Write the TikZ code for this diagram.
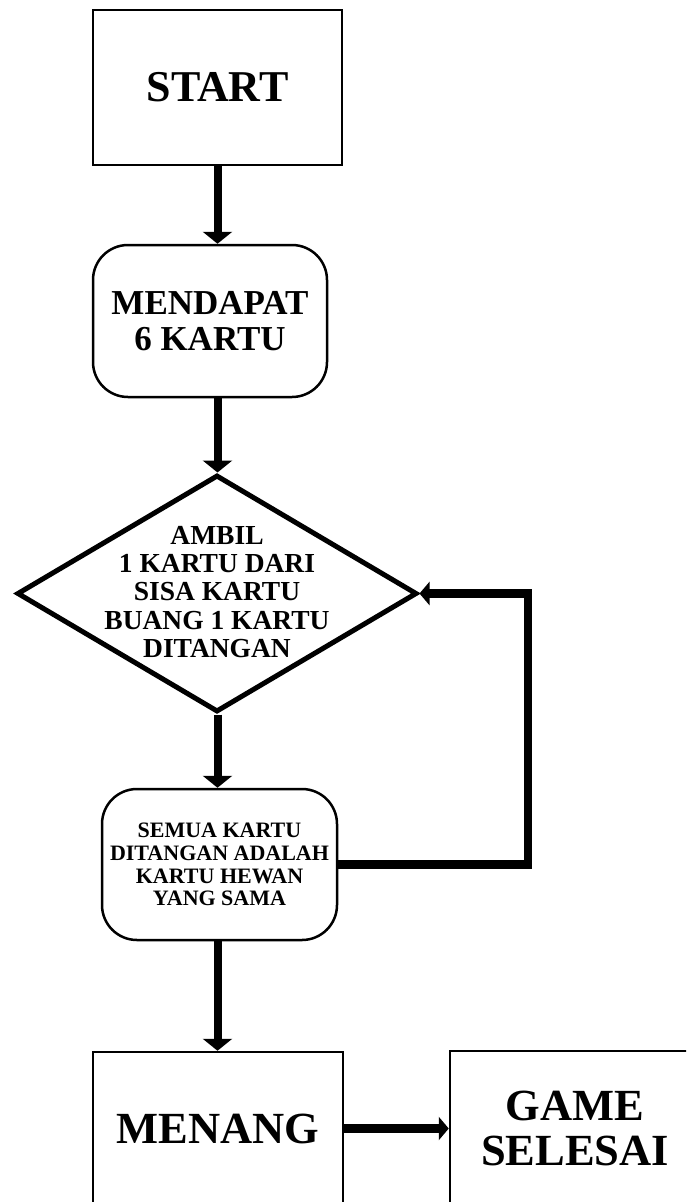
\documentclass[tikz,border=0pt]{standalone}
\usepackage{fontspec}
\setmainfont{Liberation Serif}
\usetikzlibrary{shapes.geometric,arrows.meta}
\tikzset{
  sqbox/.style={draw, line width=2.5pt, rectangle, inner sep=0pt, align=center},
  rndbox/.style={draw, line width=2.5pt, rectangle, rounded corners=35pt, inner sep=0pt, align=center},
  decide/.style={draw, line width=5pt, diamond, inner sep=0pt},
  plain/.style={inner sep=0pt, align=center},
  conn/.style={line width=8pt, -{Triangle[width=29pt,length=12pt]}},
  hconn/.style={line width=8.5pt, -{Triangle[width=23pt,length=10pt]}},
}
\begin{document}
\begin{tikzpicture}[x=1pt,y=-1pt]
\useasboundingbox (0,0) rectangle (686,1202);
\clip (0,0) rectangle (686,1202);

\node[sqbox, minimum width=249pt, minimum height=155pt,
  font=\fontsize{44}{46}\selectfont\bfseries] (start) at (217.5,87.5) {START};

\node[rndbox, minimum width=234pt, minimum height=152pt,
  font=\fontsize{35}{35.5}\selectfont\bfseries] (mendapat) at (210,321) {MENDAPAT\\6 KARTU};

\node[decide, minimum width=400pt, minimum height=237pt] (ambil) at (217,593.5) {};
\node[plain, font=\fontsize{27.5}{28.3}\selectfont\bfseries] (ambiltext) at (217,592)
  {AMBIL\\1 KARTU DARI\\SISA KARTU\\BUANG 1 KARTU\\DITANGAN};

\node[rndbox, minimum width=235pt, minimum height=151pt,
  font=\fontsize{22}{22.7}\selectfont\bfseries] (semua) at (219.5,864.5)
  {SEMUA KARTU\\DITANGAN ADALAH\\KARTU HEWAN\\YANG SAMA};

\node[sqbox, minimum width=250pt, minimum height=153pt,
  font=\fontsize{44.5}{46}\selectfont\bfseries] (menang) at (218,1128.5) {MENANG};

\node[sqbox, minimum width=250pt, minimum height=154pt,
  font=\fontsize{44.5}{45}\selectfont\bfseries] (game) at (575,1128) {GAME\\SELESAI};

\coordinate (loopc) at (528,700);

\draw[conn] (start.south) -- (start.south |- mendapat.north);
\draw[conn] (start.south |- mendapat.south) -- (start.south |- ambil.north);
\draw[conn] (start.south |- ambil.south) -- (start.south |- semua.north);
\draw[hconn] (semua.east) -| (loopc) |- (ambil.east);
\draw[conn] (start.south |- semua.south) -- (start.south |- menang.north);
\draw[hconn] (menang.east) -- (menang.east -| game.west);
\end{tikzpicture}
\end{document}
